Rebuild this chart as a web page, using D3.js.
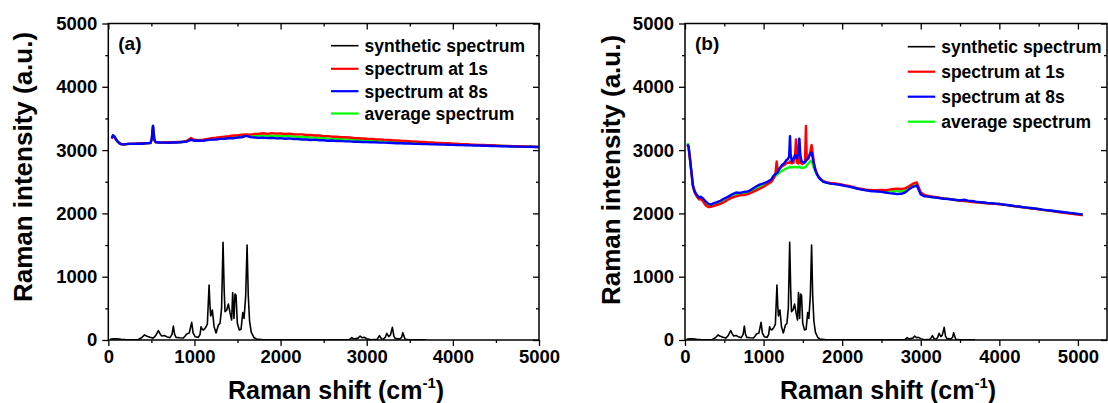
<!DOCTYPE html>
<html>
<head>
<meta charset="utf-8">
<script src="https://cdn.jsdelivr.net/npm/d3@7"></script>
<style>
html,body{margin:0;padding:0;background:#fff;}
svg{display:block;}
text{font-family:"Liberation Sans",Arial,Helvetica,sans-serif;font-weight:bold;fill:#000;}
</style>
</head>
<body>
<svg id="chart" width="1108" height="403"></svg>
<script>
// ---------- DATA ----------
const xMajorA = [0, 1000, 2000, 3000, 4000, 5000];
const xMinorA = [500, 1500, 2500, 3500, 4500];
const xMajorB = [0, 1000, 2000, 3000, 4000, 5000];
const xMinorB = [500, 1500, 2500, 3500, 4500];
const yMajor = [0, 1000, 2000, 3000, 4000, 5000];
const yMinor = [500, 1500, 2500, 3500, 4500];
const legendLabels = ["synthetic spectrum", "spectrum at 1s", "spectrum at 8s", "average spectrum"];
const panelLabels = ["(a)", "(b)"];

// synthetic (calculated) spectrum, same in both panels
const synthetic = [[20,10],[60,18],[100,20],[150,12],[200,6],[300,5],[350,8],[390,40],[420,80],[450,60],[484,42],[520,30],[550,70],[581,150],[600,100],[620,63],[650,70],[678,53],[716,37],[740,90],[755,221],[770,90],[786,42],[830,35],[871,32],[890,60],[910,95],[940,110],[968,279],[985,110],[1010,50],[1045,42],[1065,90],[1077,210],[1090,170],[1104,158],[1120,180],[1131,200],[1150,250],[1170,869],[1180,550],[1189,379],[1208,474],[1228,210],[1251,110],[1278,237],[1297,263],[1315,500],[1332,1543],[1345,800],[1355,448],[1375,474],[1394,569],[1413,432],[1432,316],[1444,748],[1459,342],[1471,727],[1483,706],[1498,263],[1521,158],[1541,169],[1561,432],[1576,342],[1595,700],[1611,1500],[1625,700],[1640,300],[1660,120],[1690,40],[1720,15],[1800,5],[2000,3],[2500,2],[2800,5],[2827,37],[2850,15],[2900,30],[2923,63],[2950,35],[2970,42],[3001,21],[3050,5],[3120,10],[3148,68],[3170,20],[3194,16],[3215,40],[3233,105],[3256,53],[3275,80],[3298,200],[3315,60],[3330,26],[3380,15],[3405,40],[3419,116],[3446,10],[3500,4],[3690,2]];

// panel (a) measured spectra
const aRed = [[40,3180],[55,3225],[70,3210],[90,3165],[110,3130],[130,3105],[150,3092],[175,3088],[200,3092],[250,3098],[300,3102],[350,3100],[400,3108],[450,3106],[490,3114],[505,3170],[512,3280],[519,3370],[526,3270],[535,3155],[550,3128],[600,3120],[650,3118],[700,3125],[750,3120],[800,3130],[850,3128],[900,3140],[940,3170],[960,3192],[980,3175],[1000,3165],[1050,3158],[1100,3165],[1150,3175],[1200,3188],[1250,3195],[1300,3205],[1350,3212],[1400,3220],[1450,3230],[1500,3232],[1550,3242],[1600,3248],[1650,3245],[1700,3256],[1750,3258],[1800,3266],[1850,3256],[1900,3268],[1950,3260],[2000,3265],[2050,3255],[2100,3260],[2150,3250],[2200,3248],[2250,3248],[2300,3238],[2350,3238],[2400,3230],[2450,3230],[2500,3220],[2550,3220],[2600,3212],[2650,3210],[2700,3205],[2750,3202],[2800,3198],[2850,3192],[2900,3188],[2950,3184],[3000,3180],[3050,3178],[3100,3172],[3150,3170],[3200,3165],[3250,3162],[3300,3156],[3350,3154],[3400,3148],[3450,3146],[3500,3140],[3550,3138],[3600,3132],[3650,3130],[3700,3124],[3750,3122],[3800,3116],[3850,3114],[3900,3110],[3950,3108],[4000,3102],[4050,3100],[4100,3095],[4150,3094],[4200,3088],[4250,3087],[4300,3082],[4350,3081],[4400,3077],[4450,3076],[4500,3072],[4550,3070],[4600,3067],[4650,3066],[4700,3062],[4750,3061],[4800,3058],[4850,3057],[4900,3054],[4950,3053],[5000,3050]];
const aBlue = [[40,3190],[55,3235],[70,3215],[90,3170],[110,3135],[130,3110],[150,3095],[175,3090],[200,3095],[250,3100],[300,3098],[350,3105],[400,3100],[450,3110],[490,3112],[505,3180],[512,3300],[519,3385],[526,3280],[535,3160],[550,3125],[600,3118],[650,3122],[700,3115],[750,3125],[800,3118],[850,3128],[900,3132],[940,3150],[960,3165],[980,3155],[1000,3148],[1050,3152],[1100,3145],[1150,3160],[1200,3165],[1250,3168],[1300,3178],[1350,3180],[1400,3188],[1450,3188],[1500,3198],[1550,3203],[1600,3225],[1650,3205],[1700,3200],[1750,3193],[1800,3198],[1850,3190],[1900,3195],[1950,3186],[2000,3190],[2050,3180],[2100,3185],[2150,3176],[2200,3176],[2250,3168],[2300,3168],[2350,3160],[2400,3165],[2450,3156],[2500,3155],[2550,3148],[2600,3152],[2650,3144],[2700,3145],[2750,3138],[2800,3138],[2850,3133],[2900,3132],[2950,3128],[3000,3128],[3050,3124],[3100,3124],[3150,3118],[3200,3118],[3250,3115],[3300,3112],[3350,3108],[3400,3108],[3450,3104],[3500,3104],[3550,3098],[3600,3099],[3650,3094],[3700,3094],[3750,3090],[3800,3090],[3850,3086],[3900,3087],[3950,3084],[4000,3083],[4050,3079],[4100,3080],[4150,3075],[4200,3076],[4250,3071],[4300,3072],[4350,3068],[4400,3068],[4450,3065],[4500,3065],[4550,3061],[4600,3062],[4650,3058],[4700,3058],[4750,3055],[4800,3055],[4850,3051],[4900,3052],[4950,3048],[5000,3048]];
const aGreen = [[40,3185],[55,3230],[70,3212],[90,3168],[110,3132],[130,3108],[150,3094],[175,3089],[200,3094],[250,3099],[300,3100],[350,3103],[400,3104],[450,3108],[490,3113],[505,3175],[512,3290],[519,3378],[526,3275],[535,3158],[550,3126],[600,3119],[650,3120],[700,3120],[750,3122],[800,3124],[850,3128],[900,3136],[940,3160],[960,3178],[980,3165],[1000,3156],[1050,3155],[1100,3155],[1150,3168],[1200,3176],[1250,3182],[1300,3192],[1350,3196],[1400,3204],[1450,3209],[1500,3215],[1550,3222],[1600,3236],[1650,3225],[1700,3228],[1750,3226],[1800,3232],[1850,3223],[1900,3231],[1950,3223],[2000,3227],[2050,3218],[2100,3222],[2150,3213],[2200,3212],[2250,3208],[2300,3203],[2350,3199],[2400,3197],[2450,3193],[2500,3188],[2550,3184],[2600,3182],[2650,3177],[2700,3175],[2750,3170],[2800,3168],[2850,3163],[2900,3160],[2950,3156],[3000,3154],[3050,3151],[3100,3148],[3150,3144],[3200,3142],[3250,3138],[3300,3134],[3350,3131],[3400,3128],[3450,3125],[3500,3122],[3550,3118],[3600,3116],[3650,3112],[3700,3109],[3750,3106],[3800,3103],[3850,3100],[3900,3098],[3950,3096],[4000,3093],[4050,3090],[4100,3088],[4150,3085],[4200,3082],[4250,3079],[4300,3077],[4350,3075],[4400,3073],[4450,3071],[4500,3069],[4550,3066],[4600,3065],[4650,3062],[4700,3060],[4750,3058],[4800,3057],[4850,3054],[4900,3053],[4950,3051],[5000,3049]];

// panel (b) measured spectra
const bRed = [[30,3080],[45,3050],[60,2880],[80,2660],[100,2430],[120,2340],[140,2290],[160,2250],[180,2220],[200,2230],[215,2210],[230,2190],[250,2150],[270,2120],[300,2100],[330,2105],[360,2115],[400,2130],[450,2150],[500,2180],[550,2220],[600,2250],[650,2270],[700,2285],[750,2290],[800,2305],[850,2330],[900,2360],[950,2390],[1000,2420],[1050,2460],[1100,2500],[1130,2560],[1150,2620],[1166,2820],[1180,2680],[1200,2700],[1230,2740],[1260,2760],[1290,2790],[1310,2800],[1325,2800],[1336,2820],[1345,2800],[1360,2790],[1380,2800],[1400,2900],[1412,3170],[1425,2800],[1440,2790],[1454,3170],[1468,2800],[1484,2790],[1500,2780],[1515,2800],[1527,2820],[1539,3380],[1550,2850],[1570,2860],[1590,2950],[1611,3080],[1625,2950],[1640,2800],[1660,2690],[1680,2620],[1700,2580],[1730,2540],[1760,2510],[1800,2490],[1850,2480],[1900,2475],[1950,2465],[2000,2455],[2050,2440],[2100,2430],[2150,2410],[2200,2395],[2250,2385],[2300,2375],[2350,2370],[2400,2365],[2450,2365],[2500,2370],[2550,2365],[2600,2375],[2650,2385],[2700,2390],[2750,2385],[2800,2395],[2850,2430],[2900,2470],[2950,2490],[3000,2330],[3050,2290],[3100,2275],[3150,2265],[3200,2255],[3250,2245],[3300,2235],[3350,2230],[3400,2222],[3450,2210],[3500,2200],[3550,2195],[3600,2190],[3650,2180],[3700,2175],[3750,2170],[3800,2165],[3850,2160],[3900,2155],[3950,2150],[4000,2145],[4050,2138],[4100,2130],[4150,2120],[4200,2112],[4250,2105],[4300,2095],[4350,2088],[4400,2080],[4450,2072],[4500,2065],[4550,2055],[4600,2048],[4650,2040],[4700,2032],[4750,2022],[4800,2015],[4850,2005],[4900,1998],[4950,1990],[5000,1982],[5050,1972],[5060,1970]];
const bBlue = [[30,3090],[45,3060],[60,2900],[80,2680],[100,2450],[120,2360],[140,2310],[160,2280],[180,2250],[200,2262],[215,2250],[230,2235],[250,2205],[270,2180],[300,2150],[330,2140],[360,2158],[400,2175],[450,2200],[500,2235],[550,2265],[600,2300],[650,2330],[700,2325],[750,2340],[800,2345],[850,2380],[900,2420],[950,2455],[1000,2475],[1050,2500],[1100,2540],[1130,2600],[1150,2620],[1166,2635],[1180,2650],[1200,2700],[1230,2760],[1260,2790],[1290,2840],[1310,2860],[1325,2900],[1336,3220],[1345,2930],[1360,2820],[1380,2860],[1400,2920],[1412,2890],[1425,2870],[1440,2950],[1454,3180],[1468,2920],[1484,2820],[1500,2810],[1515,2800],[1527,2805],[1539,2830],[1550,2850],[1570,2880],[1590,2930],[1611,2960],[1625,2880],[1640,2780],[1660,2680],[1680,2620],[1700,2570],[1730,2530],[1760,2500],[1800,2485],[1850,2470],[1900,2465],[1950,2455],[2000,2445],[2050,2430],[2100,2420],[2150,2405],[2200,2390],[2250,2375],[2300,2365],[2350,2355],[2400,2350],[2450,2345],[2500,2340],[2550,2330],[2600,2320],[2650,2315],[2700,2305],[2750,2310],[2800,2330],[2850,2380],[2900,2420],[2950,2440],[3000,2300],[3050,2270],[3100,2265],[3150,2255],[3200,2250],[3250,2240],[3300,2232],[3350,2228],[3400,2220],[3450,2212],[3500,2205],[3550,2215],[3600,2200],[3650,2195],[3700,2185],[3750,2178],[3800,2172],[3850,2165],[3900,2160],[3950,2155],[4000,2150],[4050,2140],[4100,2132],[4150,2125],[4200,2115],[4250,2108],[4300,2100],[4350,2092],[4400,2085],[4450,2078],[4500,2070],[4550,2060],[4600,2052],[4650,2045],[4700,2038],[4750,2030],[4800,2022],[4850,2015],[4900,2008],[4950,2000],[5000,1992],[5050,1985],[5060,1982]];
const bGreen = [[30,3110],[45,3070],[60,2900],[80,2670],[100,2440],[120,2350],[140,2300],[160,2265],[180,2235],[200,2245],[215,2230],[230,2212],[250,2178],[270,2150],[300,2125],[330,2120],[360,2130],[400,2145],[450,2170],[500,2205],[550,2240],[600,2275],[650,2300],[700,2305],[750,2315],[800,2325],[850,2355],[900,2390],[950,2420],[1000,2445],[1050,2475],[1100,2510],[1130,2560],[1150,2590],[1166,2605],[1180,2620],[1200,2640],[1230,2670],[1260,2690],[1290,2710],[1310,2720],[1325,2725],[1336,2740],[1345,2730],[1360,2725],[1380,2730],[1400,2735],[1412,2730],[1425,2725],[1440,2730],[1454,2740],[1468,2725],[1484,2720],[1500,2720],[1515,2725],[1527,2730],[1539,2740],[1550,2760],[1570,2790],[1590,2820],[1611,2830],[1625,2780],[1640,2720],[1660,2660],[1680,2610],[1700,2570],[1730,2535],[1760,2505],[1800,2485],[1850,2475],[1900,2470],[1950,2460],[2000,2450],[2050,2435],[2100,2425],[2150,2408],[2200,2392],[2250,2380],[2300,2370],[2350,2362],[2400,2357],[2450,2355],[2500,2355],[2550,2348],[2600,2348],[2650,2350],[2700,2348],[2750,2348],[2800,2362],[2850,2405],[2900,2445],[2950,2465],[3000,2315],[3050,2280],[3100,2270],[3150,2260],[3200,2252],[3250,2242],[3300,2233],[3350,2229],[3400,2221],[3450,2211],[3500,2203],[3550,2205],[3600,2195],[3650,2188],[3700,2180],[3750,2174],[3800,2168],[3850,2162],[3900,2158],[3950,2152],[4000,2148],[4050,2139],[4100,2131],[4150,2122],[4200,2113],[4250,2106],[4300,2098],[4350,2090],[4400,2082],[4450,2075],[4500,2068],[4550,2058],[4600,2050],[4650,2042],[4700,2035],[4750,2026],[4800,2018],[4850,2010],[4900,2003],[4950,1995],[5000,1987],[5050,1978],[5060,1976]];

// ---------- DRAWING ----------
const svg = d3.select("#chart");
const colors = ["#000000", "#ff0000", "#0000ff", "#00ff00"];
const yTop = 23.5, yBot = 340;
const tickFont = 18.5, legendFont = 17.5;

const panels = [
  { id: "a", left: 108.3, right: 539, xmax: 5000, xMajor: xMajorA, xMinor: xMinorA,
    red: aRed, blue: aBlue, green: aGreen, label: panelLabels[0],
    legY: [45.7, 68.8, 91.2, 113.5], xTitleX: 336, yTitleX: 32, yTitleY: 167 },
  { id: "b", left: 685, right: 1107, xmax: 5370, xMajor: xMajorB, xMinor: xMinorB,
    red: bRed, blue: bBlue, green: bGreen, label: panelLabels[1],
    legY: [46.7, 71.7, 96.7, 121.7], xTitleX: 888, yTitleX: 619.5, yTitleY: 170 }
];

panels.forEach((p, pi) => {
  const x = d3.scaleLinear().domain([0, p.xmax]).range([p.left, p.right]);
  const y = d3.scaleLinear().domain([0, 5000]).range([yBot, yTop]);
  const g = svg.append("g");

  const clipId = "clip" + p.id;
  svg.append("clipPath").attr("id", clipId)
    .append("rect").attr("x", p.left).attr("y", yTop)
    .attr("width", p.right - p.left).attr("height", yBot - yTop);

  const line = d3.line().x(d => x(d[0])).y(d => y(d[1]));
  const plot = g.append("g").attr("clip-path", `url(#${clipId})`);
  plot.append("path").datum(synthetic).attr("d", line)
    .attr("fill", "none").attr("stroke", colors[0]).attr("stroke-width", 1.6)
    .attr("stroke-linejoin", "round");
  [[p.green, colors[3]], [p.red, colors[1]], [p.blue, colors[2]]].forEach(([data, c]) => {
    plot.append("path").datum(data).attr("d", line)
      .attr("fill", "none").attr("stroke", c).attr("stroke-width", 2.4)
      .attr("stroke-linejoin", "round");
  });

  // axes
  const styleAxis = sel => {
    sel.select(".domain").remove();
    sel.selectAll(".tick line").attr("stroke", "#000").attr("stroke-width", 1.3);
    sel.selectAll("text").attr("font-size", tickFont).attr("font-weight", "bold")
      .attr("font-family", '"Liberation Sans",Arial,sans-serif').attr("fill", "#000");
  };
  g.append("g").attr("transform", `translate(0,${yBot})`)
    .call(d3.axisBottom(x).tickValues(p.xMajor).tickSize(6).tickPadding(4).tickFormat(d3.format("d")))
    .call(styleAxis);
  g.append("g").attr("transform", `translate(0,${yBot})`)
    .call(d3.axisBottom(x).tickValues(p.xMinor).tickSize(3).tickFormat(""))
    .call(styleAxis);
  g.append("g").attr("transform", `translate(0,${yTop})`)
    .call(d3.axisTop(x).tickValues(p.xMajor).tickSize(-6).tickFormat(""))
    .call(styleAxis);
  g.append("g").attr("transform", `translate(0,${yTop})`)
    .call(d3.axisTop(x).tickValues(p.xMinor).tickSize(-3).tickFormat(""))
    .call(styleAxis);
  g.append("g").attr("transform", `translate(${p.left},0)`)
    .call(d3.axisLeft(y).tickValues(yMajor).tickSize(6).tickPadding(5).tickFormat(d3.format("d")))
    .call(styleAxis);
  g.append("g").attr("transform", `translate(${p.left},0)`)
    .call(d3.axisLeft(y).tickValues(yMinor).tickSize(3).tickFormat(""))
    .call(styleAxis);
  g.append("g").attr("transform", `translate(${p.right},0)`)
    .call(d3.axisRight(y).tickValues(yMajor).tickSize(-6).tickFormat(""))
    .call(styleAxis);
  g.append("g").attr("transform", `translate(${p.right},0)`)
    .call(d3.axisRight(y).tickValues(yMinor).tickSize(-3).tickFormat(""))
    .call(styleAxis);

  // frame
  g.append("rect").attr("x", p.left).attr("y", yTop)
    .attr("width", p.right - p.left).attr("height", yBot - yTop)
    .attr("fill", "none").attr("stroke", "#000").attr("stroke-width", 1.5);

  // panel label
  g.append("text").attr("x", p.left + 10).attr("y", 49.5).attr("font-size", 19).text(p.label);

  // legend
  const legX = p.left + 222.7;
  legendLabels.forEach((lab, i) => {
    g.append("line").attr("x1", legX).attr("x2", legX + 27.5)
      .attr("y1", p.legY[i]).attr("y2", p.legY[i])
      .attr("stroke", colors[i]).attr("stroke-width", i === 0 ? 1.6 : 2.2);
    g.append("text").attr("x", legX + 33.5).attr("y", p.legY[i]).attr("dy", "0.36em")
      .attr("font-size", legendFont).text(lab);
  });

  // axis titles
  const xt = g.append("text").attr("x", p.xTitleX).attr("y", 398.5)
    .attr("text-anchor", "middle").attr("font-size", 25);
  xt.append("tspan").text("Raman shift (cm");
  xt.append("tspan").attr("font-size", 15).attr("dy", -11).text("-1");
  xt.append("tspan").attr("dy", 11).text(")");

  g.append("text").attr("transform", `translate(${p.yTitleX},${p.yTitleY}) rotate(-90)`)
    .attr("text-anchor", "middle").attr("font-size", 26).text("Raman intensity (a.u.)");
});
</script>
</body>
</html>
